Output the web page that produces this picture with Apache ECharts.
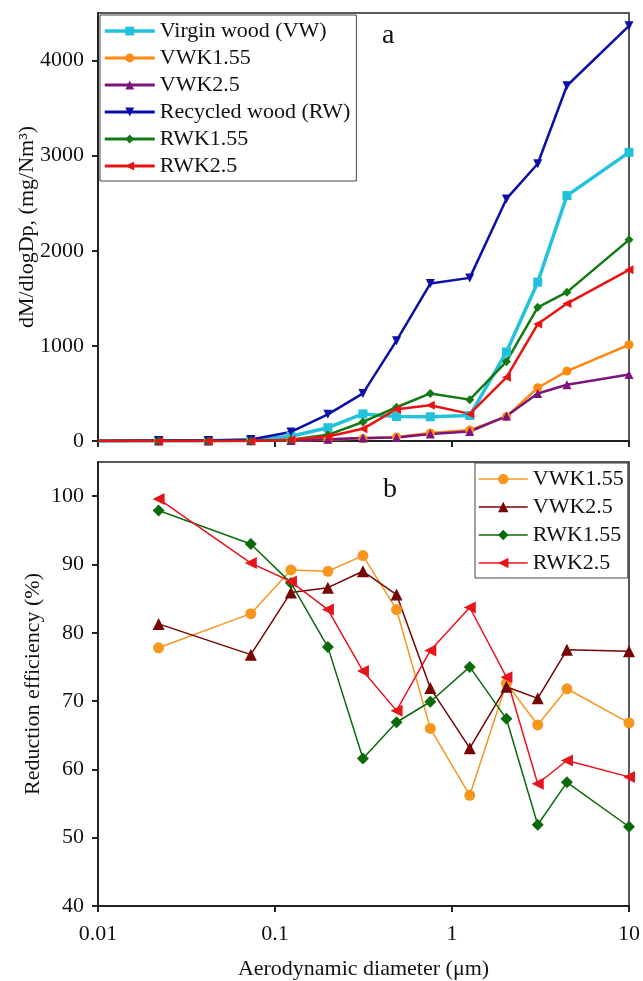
<!DOCTYPE html>
<html>
<head>
<meta charset="utf-8">
<script src="https://cdn.jsdelivr.net/npm/echarts@6/dist/echarts.min.js"></script>
<style>
  html, body { margin: 0; padding: 0; background: #fff; }
  #chart { width: 643px; height: 981px; }
</style>
</head>
<body>
<div id="chart"></div>
<script>
// Aerodynamic diameters (µm) of the impactor stages
const sizesMass = [0.01, 0.022, 0.042, 0.073, 0.123, 0.199, 0.314, 0.486, 0.754, 1.26, 2.03, 3.05, 4.46, 10];
const sizesEff = [0.022, 0.073, 0.123, 0.199, 0.314, 0.486, 0.754, 1.26, 2.03, 3.05, 4.46, 10];

// Panel a: mass size distribution dM/dlogDp (mg/Nm3)
const massVW     = [0, 3, 4, 8, 50, 140, 285, 258, 255, 268, 935, 1670, 2580, 3035];
const massVWK155 = [0, 1, 1, 2, 6, 15, 25, 43, 85, 115, 255, 560, 735, 1012];
const massVWK25  = [0, 1, 1, 2, 6, 18, 31, 38, 73, 100, 262, 500, 592, 700];
const massRW     = [0, 4, 6, 15, 95, 280, 500, 1055, 1655, 1715, 2545, 2915, 3735, 4365];
const massRWK155 = [0, 0, 1, 1, 12, 65, 200, 355, 500, 435, 835, 1405, 1565, 2115];
const massRWK25  = [0, 0, 1, 1, 12, 47, 128, 335, 375, 285, 670, 1230, 1445, 1800];

// Panel b: reduction efficiency (%)
const effVWK155 = [77.8, 82.8, 89.2, 89.0, 91.3, 83.4, 66.0, 56.2, 72.6, 66.5, 71.8, 66.8];
const effVWK25  = [81.3, 76.8, 85.9, 86.6, 89.0, 85.6, 71.9, 63.1, 72.1, 70.4, 77.5, 77.3];
const effRWK155 = [97.9, 93.0, 87.3, 77.9, 61.6, 66.9, 69.9, 75.0, 67.4, 51.9, 58.1, 51.6];
const effRWK25  = [99.6, 90.2, 87.5, 83.4, 74.4, 68.6, 77.4, 83.7, 73.5, 57.9, 61.3, 58.9];

// Axis ticks
const xTicks = [0.01, 0.1, 1, 10];
const xTickLabels = ['0.01', '0.1', '1', '10'];
const yMassTicks = [0, 1000, 2000, 3000, 4000];
const yEffTicks = [40, 50, 60, 70, 80, 90, 100];

const FONT = 'Liberation Serif';
const AX = '#222';

const pair = (xs, ys) => xs.map((x, i) => [x, ys[i]]);
const xLabel = v => {
  const i = Math.round(Math.log10(v)) + 2;
  return xTickLabels[i] !== undefined ? xTickLabels[i] : '';
};
const plainNum = v => String(Math.round(v));

const C = {
  vw: '#22c2dc', vwk155: '#ff8a12', vwk25: '#7d147d',
  rw: '#0a0fa8', rwk155: '#127a12', rwk25: '#e81414',
  bOrange: '#f7961f', bMaroon: '#760404', bGreen: '#0a6a0a', bRed: '#e8141c'
};

function massSeries(name, ys, color, symbol, rotate, width) {
  return {
    name, type: 'line', xAxisIndex: 0, yAxisIndex: 0,
    data: pair(sizesMass, ys),
    symbol, symbolRotate: rotate,
    symbolSize: v => (v[0] <= 0.01 ? 0 : 9),
    lineStyle: { color, width },
    itemStyle: { color },
    emphasis: { disabled: true }
  };
}
function effSeries(name, ys, color, symbol, rotate, size) {
  return {
    name, type: 'line', xAxisIndex: 1, yAxisIndex: 1,
    data: pair(sizesEff, ys),
    symbol, symbolRotate: rotate, symbolSize: size,
    lineStyle: { color, width: 1.5 },
    itemStyle: { color },
    emphasis: { disabled: true }
  };
}

const commonX = {
  type: 'log', logBase: 10, min: 0.01, max: 10,
  axisLine: { lineStyle: { color: AX, width: 2 } },
  axisTick: { show: true, inside: false, length: 6, lineStyle: { color: AX, width: 2 }, customValues: xTicks },
  minorTick: { show: false },
  splitLine: { show: false }
};
const commonY = {
  type: 'value',
  axisLine: { show: true, lineStyle: { color: AX, width: 2 } },
  axisTick: { show: true, inside: false, length: 6, lineStyle: { color: AX, width: 2 } },
  splitLine: { show: false },
  nameLocation: 'middle',
  nameMoveOverlap: false,
  nameTextStyle: { fontFamily: FONT, fontSize: 22, color: '#111' }
};

const option = {
  animation: false,
  backgroundColor: '#fff',
  textStyle: { fontFamily: FONT },
  grid: [
    { left: 98, right: 14, top: 13, height: 428, show: true, borderColor: AX, borderWidth: 1.5,
      containLabel: false, outerBoundsMode: 'none' },
    { left: 98, right: 14, top: 462, height: 444, show: true, borderColor: AX, borderWidth: 1.5,
      containLabel: false, outerBoundsMode: 'none' }
  ],
  xAxis: [
    Object.assign({}, commonX, { gridIndex: 0, axisLabel: { show: false } }),
    Object.assign({}, commonX, {
      gridIndex: 1,
      axisLabel: { show: true, margin: 17, fontFamily: FONT, fontSize: 22, color: '#111', formatter: xLabel, customValues: xTicks },
      name: 'Aerodynamic diameter (μm)', nameLocation: 'middle', nameGap: 52,
      nameMoveOverlap: false,
      nameTextStyle: { fontFamily: FONT, fontSize: 22, color: '#111' }
    })
  ],
  yAxis: [
    Object.assign({}, commonY, {
      gridIndex: 0, min: 0, max: 4500,
      axisTick: Object.assign({}, commonY.axisTick, { customValues: yMassTicks }),
      axisLabel: { margin: 14, fontFamily: FONT, fontSize: 22, color: '#111', formatter: plainNum, customValues: yMassTicks },
      name: 'dM/dlogDp, (mg/Nm³)', nameGap: 60
    }),
    Object.assign({}, commonY, {
      gridIndex: 1, min: 40, max: 105,
      axisTick: Object.assign({}, commonY.axisTick, { customValues: yEffTicks }),
      axisLabel: { margin: 14, fontFamily: FONT, fontSize: 22, color: '#111', formatter: plainNum, customValues: yEffTicks },
      name: 'Reduction efficiency (%)', nameGap: 54
    })
  ],
  legend: [
    {
      orient: 'vertical', left: 100, top: 15,
      padding: [5, 6, 4, 3], itemWidth: 50, itemHeight: 11, itemGap: 5,
      backgroundColor: '#fff', borderColor: '#444', borderWidth: 1,
      textStyle: { fontFamily: FONT, fontSize: 22, lineHeight: 22, color: '#111' },
      selectedMode: false,
      data: [
        { name: 'Virgin wood (VW)', itemStyle: { color: C.vw }, lineStyle: { color: C.vw, width: 3.5 } },
        { name: 'VWK1.55', itemStyle: { color: C.vwk155 }, lineStyle: { color: C.vwk155, width: 3 } },
        { name: 'VWK2.5', itemStyle: { color: C.vwk25 }, lineStyle: { color: C.vwk25, width: 3 } },
        { name: 'Recycled wood (RW)', itemStyle: { color: C.rw }, lineStyle: { color: C.rw, width: 3 } },
        { name: 'RWK1.55', itemStyle: { color: C.rwk155 }, lineStyle: { color: C.rwk155, width: 3 } },
        { name: 'RWK2.5', itemStyle: { color: C.rwk25 }, lineStyle: { color: C.rwk25, width: 3 } }
      ]
    },
    {
      orient: 'vertical', left: 475, top: 463,
      padding: [5, 4, 4, 3], itemWidth: 49, itemHeight: 13, itemGap: 6,
      backgroundColor: '#fff', borderColor: '#444', borderWidth: 1,
      textStyle: { fontFamily: FONT, fontSize: 22, lineHeight: 22, color: '#111' },
      selectedMode: false,
      data: [
        { name: 'VWK1.55', itemStyle: { color: C.bOrange }, lineStyle: { color: C.bOrange, width: 1.5 } },
        { name: 'VWK2.5', itemStyle: { color: C.bMaroon }, lineStyle: { color: C.bMaroon, width: 1.5 } },
        { name: 'RWK1.55', itemStyle: { color: C.bGreen }, lineStyle: { color: C.bGreen, width: 1.5 } },
        { name: 'RWK2.5', itemStyle: { color: C.bRed }, lineStyle: { color: C.bRed, width: 1.5 } }
      ]
    }
  ],
  graphic: [
    { type: 'text', left: 382, top: 22, style: { text: 'a', fontFamily: FONT, fontSize: 28, fill: '#111' } },
    { type: 'text', left: 383, top: 476, style: { text: 'b', fontFamily: FONT, fontSize: 28, fill: '#111' } }
  ],
  series: [
    massSeries('Virgin wood (VW)', massVW, C.vw, 'rect', 0, 3.5),
    massSeries('VWK1.55', massVWK155, C.vwk155, 'circle', 0, 2.5),
    massSeries('VWK2.5', massVWK25, C.vwk25, 'triangle', 0, 2.5),
    massSeries('Recycled wood (RW)', massRW, C.rw, 'triangle', 180, 2.5),
    massSeries('RWK1.55', massRWK155, C.rwk155, 'diamond', 0, 2.5),
    massSeries('RWK2.5', massRWK25, C.rwk25, 'triangle', 90, 2.5),
    effSeries('VWK1.55', effVWK155, C.bOrange, 'circle', 0, 11),
    effSeries('VWK2.5', effVWK25, C.bMaroon, 'triangle', 0, 12),
    effSeries('RWK1.55', effRWK155, C.bGreen, 'diamond', 0, 12),
    effSeries('RWK2.5', effRWK25, C.bRed, 'triangle', 90, 12)
  ]
};

const chart = echarts.init(document.getElementById('chart'), null, { renderer: 'canvas' });
chart.setOption(option);
</script>
</body>
</html>
